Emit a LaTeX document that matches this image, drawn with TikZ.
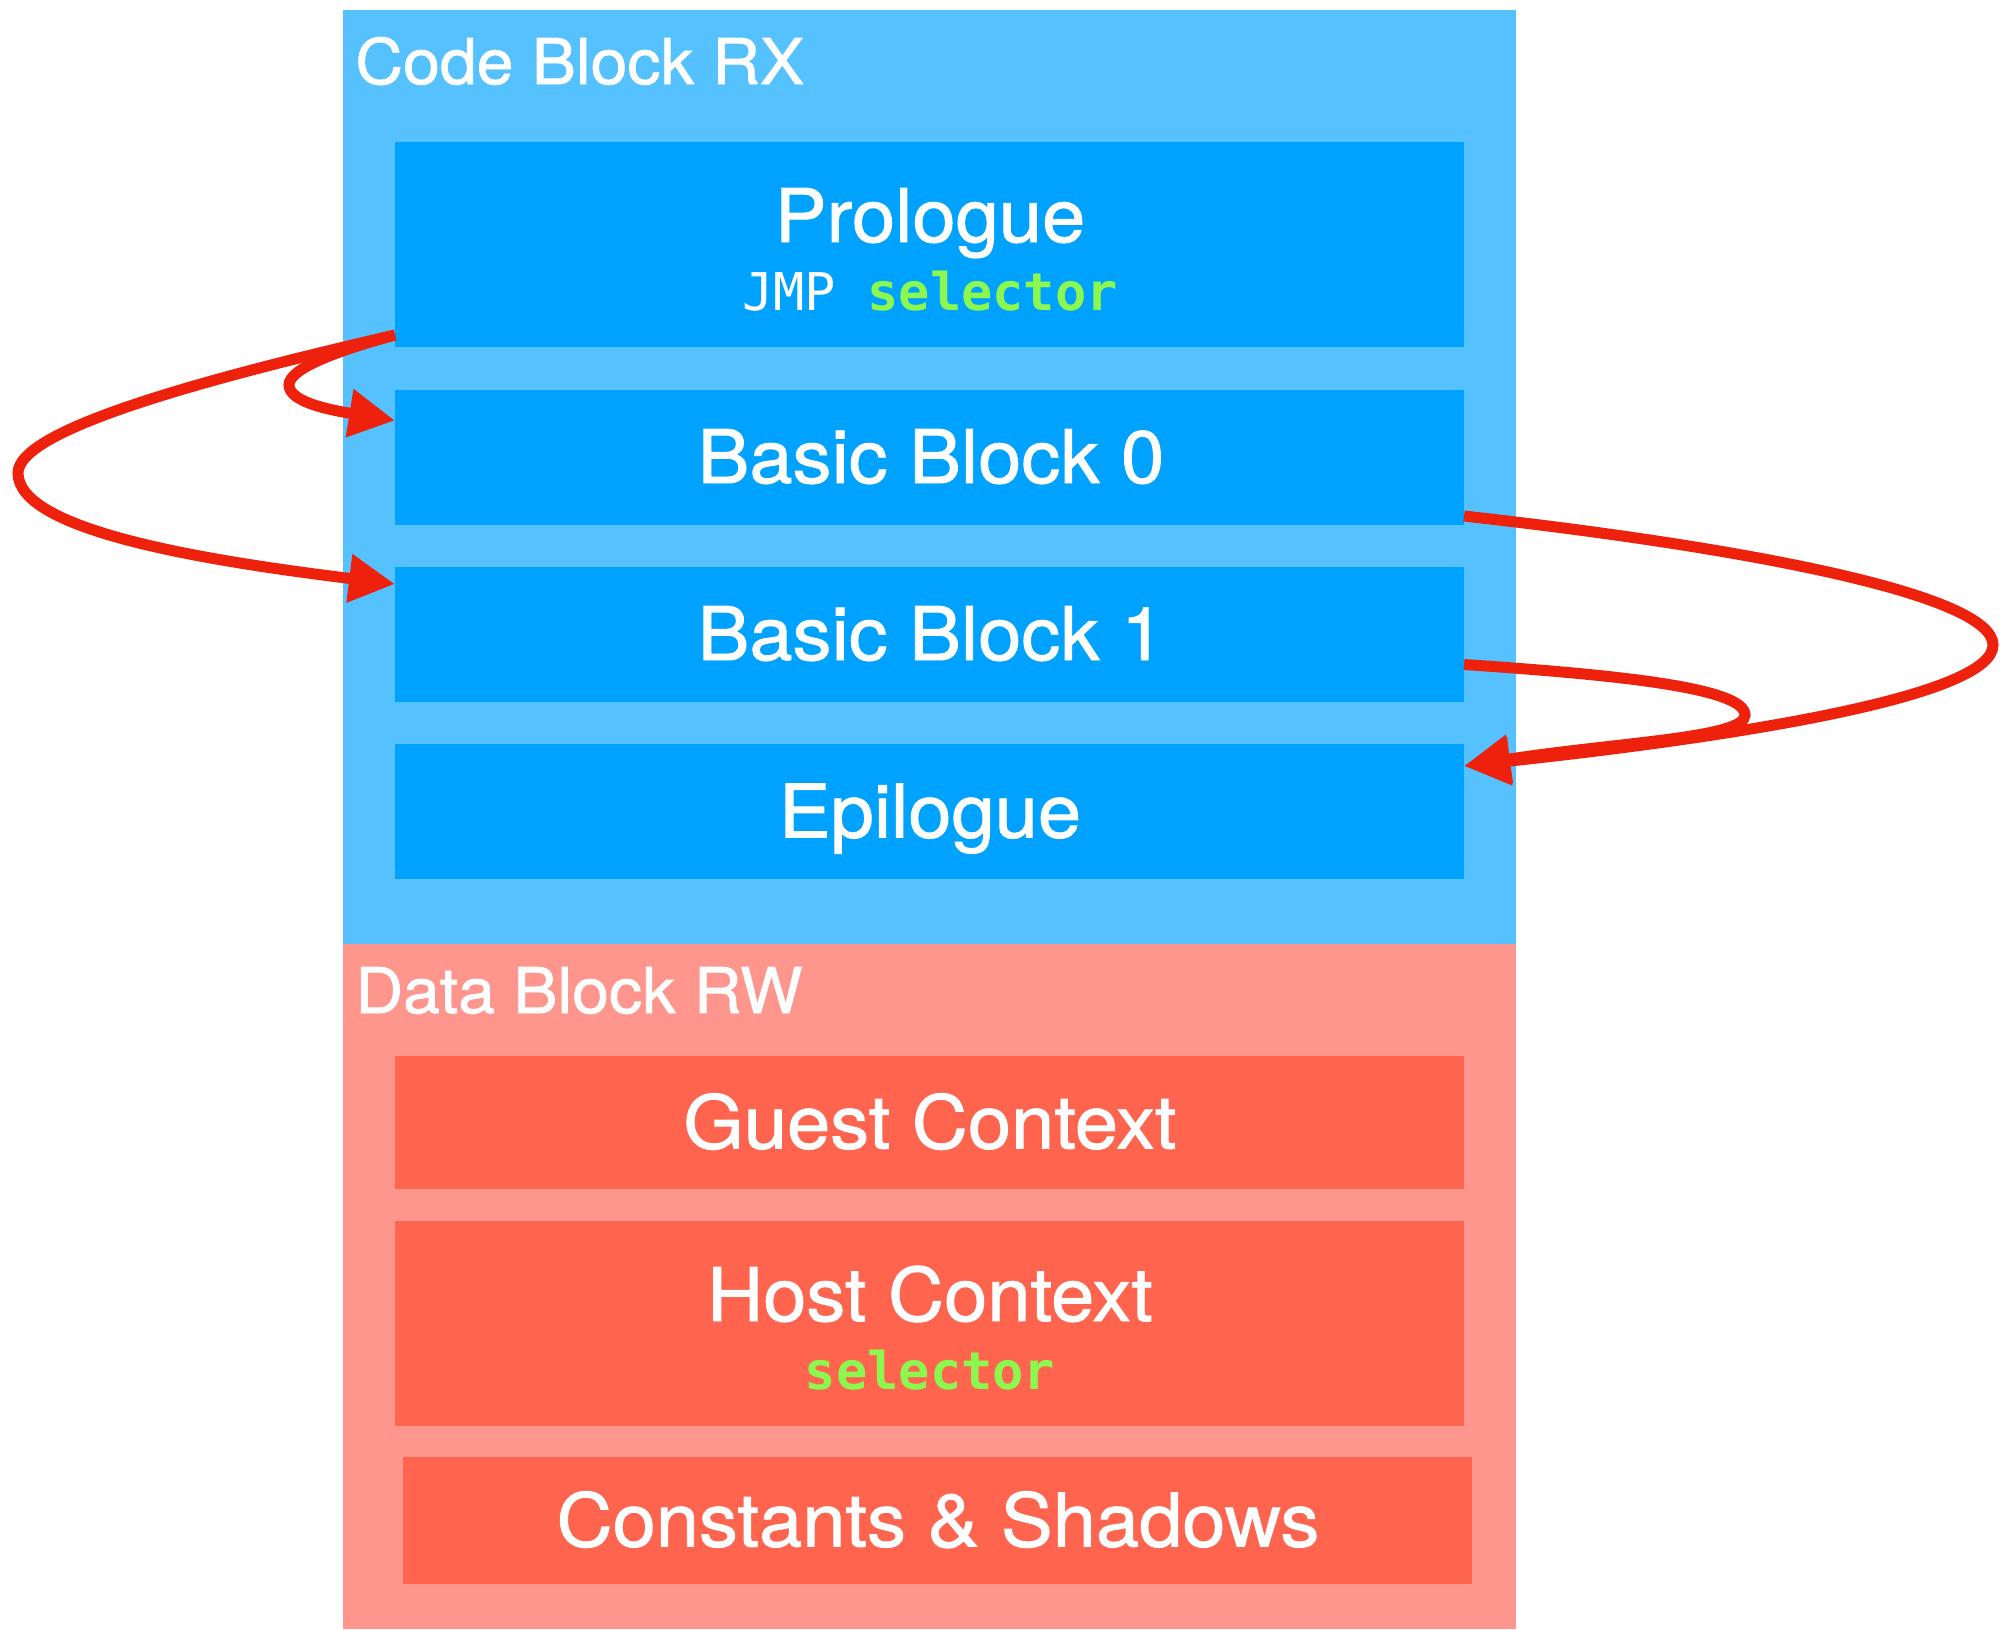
\documentclass[tikz,border=0pt]{standalone}
\usepackage{fontspec}
\setmainfont{TeX Gyre Heros}
\newfontfamily\labelfont{TeX Gyre Heros}[FakeStretch=1.05, FakeBold=1.2]
\newfontfamily\codefont{DejaVu Sans Mono}
\usetikzlibrary{arrows.meta}

\definecolor{codeouter}{HTML}{56C1FF}
\definecolor{codeinner}{HTML}{00A2FF}
\definecolor{dataouter}{HTML}{FF968D}
\definecolor{datainner}{HTML}{FF644E}
\definecolor{flowred}{HTML}{EE220C}
\definecolor{selgreen}{HTML}{8CF74E}

\tikzset{
  region/.style={rectangle, inner sep=0pt, outer sep=0pt, draw=none},
  codebox/.style={region, fill=codeinner},
  databox/.style={region, fill=datainner},
  bigtext/.style={inner sep=0pt, text=white, font=\labelfont\fontsize{37pt}{42pt}\selectfont, anchor=base},
  headtext/.style={inner sep=0pt, text=white, font=\labelfont\fontsize{31.5pt}{36pt}\selectfont, anchor=base west},
  monotext/.style={inner sep=0pt, text=white, font=\codefont\fontsize{26pt}{30pt}\selectfont, anchor=base},
  flow/.style={draw=flowred, line width=5.5pt,
    -{Triangle[length=23pt,width=23pt]}},
}

\begin{document}
\begin{tikzpicture}[x=0.5pt, y=-0.5pt]
  \useasboundingbox (0,0) rectangle (2000,1629);

  % outer regions
  \node[region, fill=codeouter, minimum width=586.5pt, minimum height=467pt] (code) at (929.5,477) {};
  \node[region, fill=dataouter, minimum width=586.5pt, minimum height=342.5pt] (data) at (929.5,1286.5) {};
  \node[headtext] (codelbl) at (355,84) {Code Block RX};
  \node[headtext] (datalbl) at (355,1013) {Data Block RW};

  % code section
  \node[codebox, minimum width=534.5pt, minimum height=102.5pt] (pro) at (929.5,244.5) {};
  \node[codebox, minimum width=534.5pt, minimum height=67.5pt] (bb0) at (929.5,457.5) {};
  \node[codebox, minimum width=534.5pt, minimum height=67.5pt] (bb1) at (929.5,634.5) {};
  \node[codebox, minimum width=534.5pt, minimum height=67.5pt] (epi) at (929.5,811.5) {};

  \node[bigtext] (protxt) at (930,242) {Prologue};
  \node[monotext] (jmptxt) at (930,310) {JMP \textcolor{selgreen}{\bfseries selector}};
  \node[bigtext] (bb0txt) at (931,483) {Basic Block 0};
  \node[bigtext] (bb1txt) at (931,660) {Basic Block 1};
  \node[bigtext] (epitxt) at (930,837.5) {Epilogue};

  % data section
  \node[databox, minimum width=534.5pt, minimum height=66.5pt] (guest) at (929.5,1122.5) {};
  \node[databox, minimum width=534.5pt, minimum height=102.5pt] (host) at (929.5,1323.5) {};
  \node[databox, minimum width=534.5pt, minimum height=63.5pt] (const) at (937.5,1520.5) {};

  \node[bigtext] (guesttxt) at (930,1148.5) {Guest Context};
  \node[bigtext] (hosttxt) at (930,1321) {Host Context};
  \node[monotext] (seltxt) at (930,1389) {\textcolor{selgreen}{\bfseries selector}};
  \node[bigtext] (consttxt) at (938,1546.5) {Constants \& Shadows};

  % control-flow edges
  \draw[flow] ([yshift=6pt]pro.south west)
    .. controls (340,350) and (289,368) .. (289,385)
    .. controls (289,402) and (330,410) .. ([yshift=18.5pt]bb0.west);
  \draw[flow] ([yshift=6pt]pro.south west)
    .. controls (200,380) and (18,430) .. (18,473)
    .. controls (18,530) and (200,560) .. ([yshift=-8.5pt]bb1.north west);
  \draw[flow] ([yshift=4.5pt]bb0.south east)
    .. controls (1750,548) and (1993,595) .. (1993,645)
    .. controls (1993,695) and (1750,735) .. ([yshift=-11pt]epi.north east);
  \draw[flow] ([yshift=-15pt]bb1.east)
    .. controls (1620,675) and (1745,688) .. (1745,715)
    .. controls (1745,738) and (1620,742) .. ([yshift=-11pt]epi.north east);
\end{tikzpicture}
\end{document}
